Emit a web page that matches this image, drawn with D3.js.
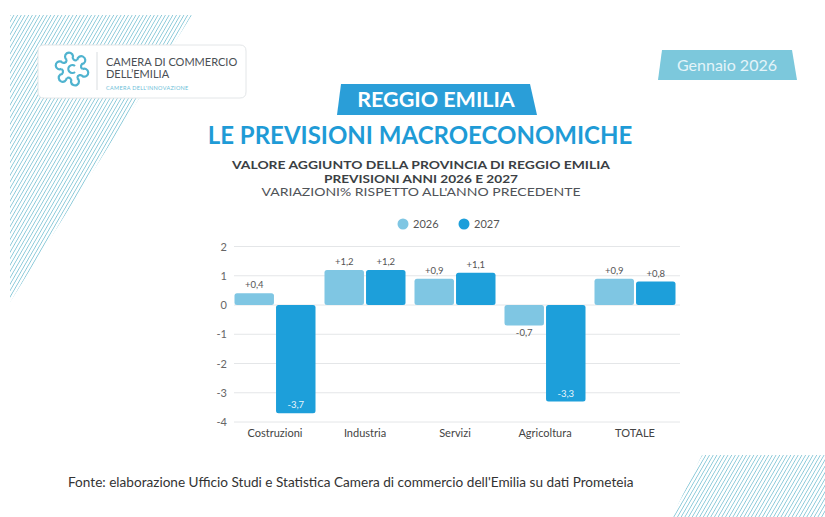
<!DOCTYPE html>
<html><head><meta charset="utf-8">
<script src="https://cdn.jsdelivr.net/npm/d3@7"></script>
<style>html,body{margin:0;padding:0;background:#fff;}svg{display:block;font-family:Lato,"Open Sans",sans-serif;}</style>
</head><body>
<svg id="c" width="825" height="517"></svg>
<script>
const categories = ["Costruzioni","Industria","Servizi","Agricoltura","TOTALE"];
const seriesNames = ["2026","2027"];
const values2026 = [0.4, 1.2, 0.9, -0.7, 0.9];
const values2027 = [-3.7, 1.2, 1.1, -3.3, 0.8];
const yTicks = [2,1,0,-1,-2,-3,-4];
const colors = ["#7fc6e3","#1d9fda"];

const svg = d3.select("#c");
const defs = svg.append("defs");
const pat = defs.append("pattern").attr("id","hatch").attr("patternUnits","userSpaceOnUse")
  .attr("width",3.2).attr("height",3.2).attr("patternTransform","rotate(30)");
pat.append("rect").attr("width",3.2).attr("height",3.2).attr("fill","#ffffff");
pat.append("line").attr("x1",0).attr("y1",0).attr("x2",0).attr("y2",3.2).attr("stroke","#88c8d8").attr("stroke-width",1.6);

// decorative hatched areas
svg.append("path").attr("d","M10,15 L192,15 L10,302 Z").attr("fill","url(#hatch)");
svg.append("path").attr("d","M702,455 L825,455 L825,517 L672,517 Z").attr("fill","url(#hatch)");

// logo box
svg.append("path").attr("d","M44,45 L240,45 Q246,45 246,51 L246,92 Q246,98 240,98 L44,98 Q38,98 38,92 L38,51 Q38,45 44,45 Z")
  .attr("fill","#fff").attr("stroke","#e3e6e8").attr("stroke-width",1);
const lg = svg.append("g").attr("transform","translate(72,69)").attr("fill","none").attr("stroke","#4fb3cf").attr("stroke-width",2.2);
for(let i=0;i<6;i++){
  lg.append("path").attr("d","M-5,2 a4,4 0 1,1 6,-4 a3,3 0 0,0 4,4").attr("transform",`rotate(${i*60}) translate(0,-11)`);
}
lg.append("path").attr("d","M3,-3 a4,4 0 1,0 0,6");
svg.append("line").attr("x1",97).attr("x2",97).attr("y1",52).attr("y2",90).attr("stroke","#d9dde0");
svg.append("text").attr("x",106).attr("y",66).attr("font-size",11).attr("fill","#4a4f55").text("CAMERA DI COMMERCIO");
svg.append("text").attr("x",106).attr("y",78).attr("font-size",11).attr("fill","#4a4f55").text("DELL’EMILIA");
svg.append("text").attr("x",106).attr("y",90).attr("font-size",5.5).attr("fill","#6cc0d8").attr("letter-spacing",0.3).text("CAMERA DELL'INNOVAZIONE");

// Gennaio badge
svg.append("path").attr("d","M662,50 L792,50 L797,80 L658,80 Z").attr("fill","#7cc8dc");
svg.append("text").attr("x",727).attr("y",71).attr("text-anchor","middle").attr("font-size",16).attr("fill","#e4f4f9").text("Gennaio 2026");

// Reggio Emilia badge
svg.append("path").attr("d","M341,84 L530,84 L537,115 L337,115 Z").attr("fill","#2a9ed8");
svg.append("text").attr("x",436).attr("y",107).attr("text-anchor","middle").attr("font-size",21.5).attr("font-weight",700).attr("fill","#fff").text("REGGIO EMILIA");

svg.append("text").attr("x",420).attr("y",144).attr("text-anchor","middle").attr("font-size",24).attr("font-weight",700).attr("fill","#1f9bd6").text("LE PREVISIONI MACROECONOMICHE");
const subs = [
  {t:"VALORE AGGIUNTO DELLA PROVINCIA DI REGGIO EMILIA", y:169, w:378, b:700, c:"#3b3f44"},
  {t:"PREVISIONI ANNI 2026 E 2027", y:182.5, w:194, b:700, c:"#3b3f44"},
  {t:"VARIAZIONI% RISPETTO ALL'ANNO PRECEDENTE", y:196, w:319, b:400, c:"#4f5358"}
];
subs.forEach(s=>{
  svg.append("text").attr("x",421-s.w/2).attr("y",s.y).attr("font-size",11.1).attr("font-weight",s.b)
    .attr("fill",s.c).attr("textLength",s.w).attr("lengthAdjust","spacingAndGlyphs").text(s.t);
});

// legend
const legX = [403, 464];
seriesNames.forEach((s,i)=>{
  svg.append("circle").attr("cx",legX[i]).attr("cy",224).attr("r",5.5).attr("fill",colors[i]);
  svg.append("text").attr("x",legX[i]+10).attr("y",228).attr("font-size",11).attr("fill","#555").text(s);
});

// chart
const y = d3.scaleLinear().domain([-4,2]).range([422,246.5]);
const x0 = d3.scaleBand().domain(categories).range([230,680]).paddingInner(0.1).paddingOuter(0.05);
const x1 = d3.scaleBand().domain(seriesNames).range([0,x0.bandwidth()]).paddingInner(0.05);

const grid = svg.append("g");
grid.selectAll("line").data(yTicks).join("line")
  .attr("x1",234).attr("x2",680).attr("y1",d=>y(d)).attr("y2",d=>y(d))
  .attr("stroke","#e4e6e8").attr("stroke-width",1);

const yAxis = svg.append("g").attr("transform","translate(227,0)")
  .call(d3.axisLeft(y).tickValues(yTicks).tickSize(0).tickPadding(0).tickFormat(d=>String(d)));
yAxis.select(".domain").remove();
yAxis.selectAll("text").attr("font-size",11).attr("fill","#666").attr("font-family","Lato");

const xAxis = svg.append("g").attr("transform","translate(0,425)")
  .call(d3.axisBottom(x0).tickSize(0).tickPadding(4));
xAxis.select(".domain").remove();
xAxis.selectAll("text").attr("font-size",11).attr("fill","#444").attr("font-family","Lato");

const data = categories.map((c,i)=>({cat:c, vals:[{s:"2026",v:values2026[i],ci:0},{s:"2027",v:values2027[i],ci:1}]}));
const fmt = v => (v>0?"+":"-") + Math.abs(v).toFixed(1).replace(".",",");
const g = svg.append("g").selectAll("g").data(data).join("g").attr("transform",d=>`translate(${x0(d.cat)},0)`);
g.selectAll("rect").data(d=>d.vals).join("rect")
  .attr("x",d=>x1(d.s)).attr("width",x1.bandwidth())
  .attr("y",d=>Math.min(y(d.v),y(0))).attr("height",d=>Math.abs(y(d.v)-y(0)))
  .attr("rx",2.5).attr("fill",d=>colors[d.ci]);
g.selectAll("text").data(d=>d.vals).join("text")
  .attr("x",d=>x1(d.s)+x1.bandwidth()/2)
  .attr("y",d=> d.v>=0 ? y(d.v)-5 : (d.v<-2 ? y(d.v)-5 : y(d.v)+11))
  .attr("text-anchor","middle").attr("font-size",9.5)
  .attr("fill",d=> d.v<-2 ? "#e8f5fb" : "#555")
  .text(d=>fmt(d.v));

svg.append("text").attr("x",68).attr("y",487).attr("font-size",13.6).attr("fill","#333").text("Fonte: elaborazione Ufficio Studi e Statistica Camera di commercio dell'Emilia su dati Prometeia");
</script>
</body></html>
